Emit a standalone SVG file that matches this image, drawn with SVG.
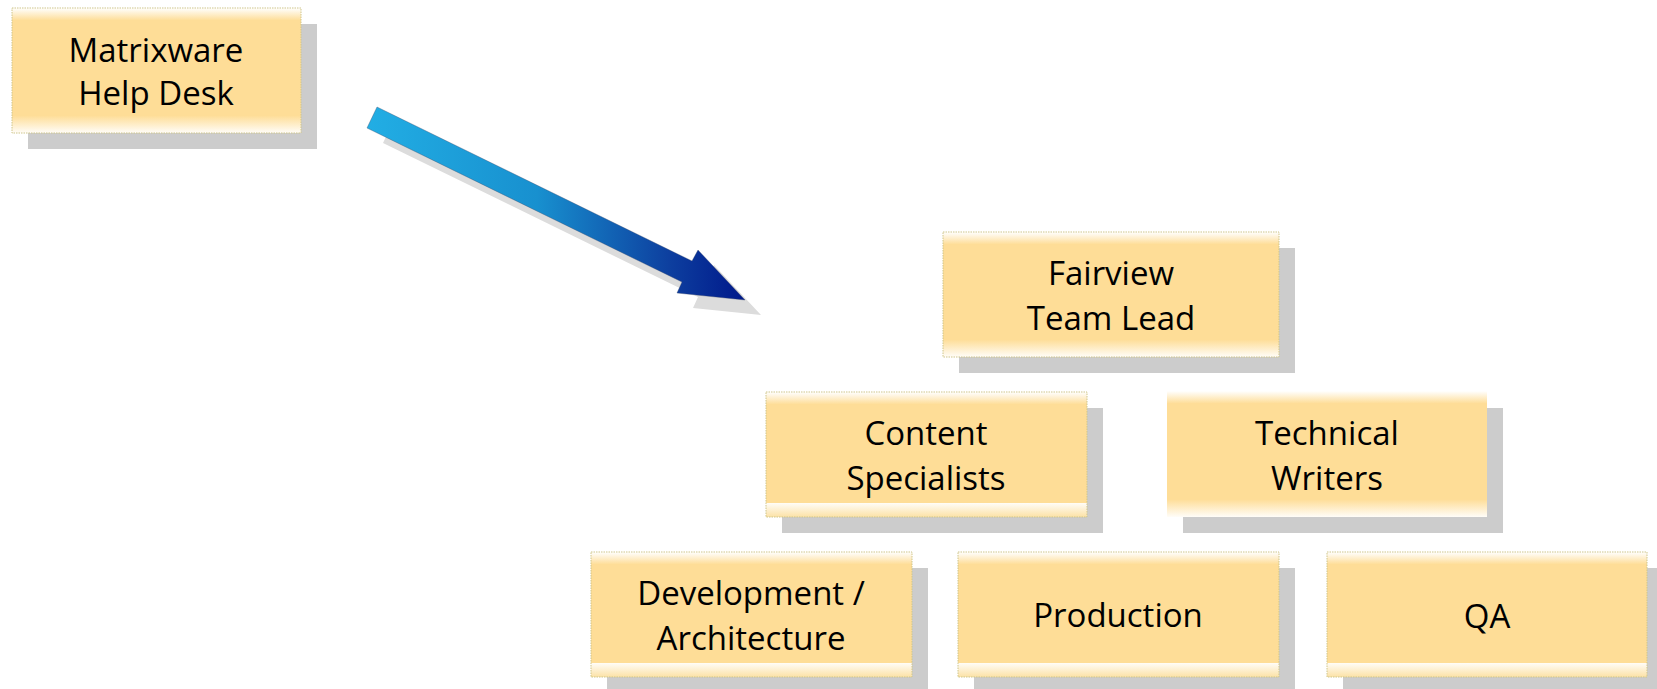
<svg xmlns="http://www.w3.org/2000/svg" width="1657" height="689" viewBox="0 0 1657 689">
<defs>
<linearGradient id="gA" x1="0" y1="0" x2="0" y2="1">
<stop offset="0" stop-color="#FFFFFF"/>
<stop offset="0.1" stop-color="#FEDD97"/>
<stop offset="0.86" stop-color="#FEDD97"/>
<stop offset="1" stop-color="#FFFDF8"/>
</linearGradient>
<linearGradient id="gB" x1="0" y1="0" x2="0" y2="1">
<stop offset="0" stop-color="#FFFFFF"/>
<stop offset="0.1" stop-color="#FEDD97"/>
<stop offset="0.885" stop-color="#FEDD97"/>
<stop offset="0.886" stop-color="#FFFDF9"/>
<stop offset="1" stop-color="#FCE2A6"/>
</linearGradient>
<linearGradient id="gArrow" gradientUnits="userSpaceOnUse" x1="367" y1="200" x2="745" y2="200">
<stop offset="0" stop-color="#22AEE4"/>
<stop offset="0.45" stop-color="#1890CF"/>
<stop offset="0.8" stop-color="#0D3F9F"/>
<stop offset="1" stop-color="#00188A"/>
</linearGradient>
</defs>
<style>
.sh{fill:#CCCCCC}
.bx{stroke:#CFC58A;stroke-width:1;stroke-dasharray:1.5 1}
.nb{stroke:none}
.t{font-family:"Open Sans","Noto Sans","Liberation Sans",sans-serif;font-size:33px;fill:#000;text-anchor:middle}
</style>
<rect width="1657" height="689" fill="#FFFFFF"/>
<g id="connectors">
<polygon points="377,107 692,261 698,250 745,300 677,293 682,282 367,128" transform="translate(16,15)" fill="#DCDCDC"/>
<polygon points="377,107 692,261 698,250 745,300 677,293 682,282 367,128" fill="url(#gArrow)" stroke="#3A4A6A" stroke-width="0.6" stroke-opacity="0.6"/>
</g>
<g id="matrixware">
<rect class="sh" x="28" y="24" width="289" height="125"/>
<rect class="bx" x="12" y="8" width="289" height="125" fill="url(#gA)"/>
<text class="t" x="156" y="62">Matrixware</text>
<text class="t" x="156" y="105">Help Desk</text>
</g>
<g id="fairview">
<rect class="sh" x="959" y="248" width="336" height="125"/>
<rect class="bx" x="943" y="232" width="336" height="125" fill="url(#gA)"/>
<text class="t" x="1111" y="285">Fairview</text>
<text class="t" x="1111" y="330">Team Lead</text>
</g>
<g id="content">
<rect class="sh" x="782" y="408" width="321" height="125"/>
<rect class="bx" x="766" y="392" width="321" height="125" fill="url(#gB)"/>
<text class="t" x="926" y="445">Content</text>
<text class="t" x="926" y="490">Specialists</text>
</g>
<g id="technical">
<rect class="sh" x="1183" y="408" width="320" height="125"/>
<rect class="nb" x="1167" y="391" width="320" height="126" fill="url(#gA)"/>
<text class="t" x="1327" y="445">Technical</text>
<text class="t" x="1327" y="490">Writers</text>
</g>
<g id="development">
<rect class="sh" x="607" y="568" width="321" height="125"/>
<rect class="bx" x="591" y="552" width="321" height="125" fill="url(#gB)"/>
<text class="t" x="751" y="605">Development /</text>
<text class="t" x="751" y="650">Architecture</text>
</g>
<g id="production">
<rect class="sh" x="974" y="568" width="321" height="125"/>
<rect class="bx" x="958" y="552" width="321" height="125" fill="url(#gB)"/>
<text class="t" x="1118" y="627">Production</text>
</g>
<g id="qa">
<rect class="sh" x="1343" y="568" width="320" height="125"/>
<rect class="bx" x="1327" y="552" width="320" height="125" fill="url(#gB)"/>
<text class="t" x="1487" y="628">QA</text>
</g>
</svg>
